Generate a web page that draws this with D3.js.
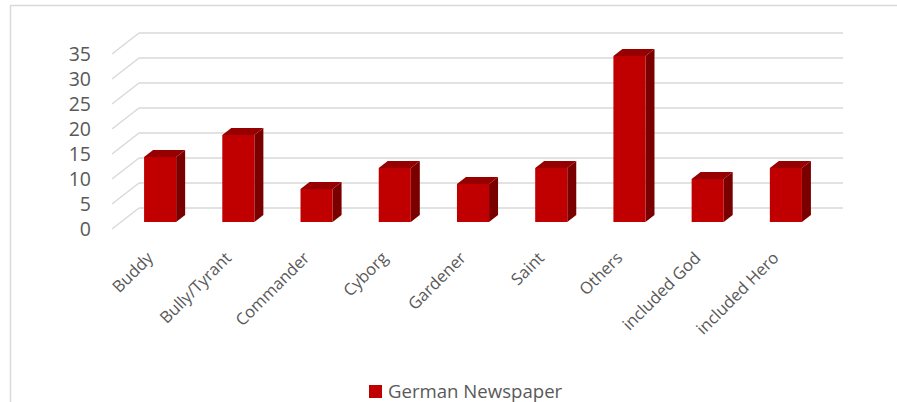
<!DOCTYPE html>
<html>
<head>
<meta charset="utf-8">
<script src="https://cdn.jsdelivr.net/npm/d3@7"></script>
<style>
  body { margin: 0; background: #fff; }
  #chart-wrapper { width: 897px; height: 402px; }
</style>
</head>
<body>
<div id="chart-wrapper"></div>
<script>
// Data
const categories = ["Buddy", "Bully/Tyrant", "Commander", "Cyborg", "Gardener", "Saint", "Others", "included God", "included Hero"]
const values = [13, 17.4, 6.6, 10.8, 7.6, 10.8, 33.2, 8.6, 10.8]
const yTicks = [0, 5, 10, 15, 20, 25, 30, 35]
const seriesName = "German Newspaper"

// Configs
const width = 897
const height = 402
const depth = {dx: 27, dy: -21}      // full floor depth offset
const barDepth = {from: 1/3, to: 2/3} // bars sit in the middle third
const colors = {
  front: "#c00000",
  side: "#7a0000",
  top: "#960000",
  grid: "#d9d9d9",
  text: "#595959"
}

const svg = d3.select("#chart-wrapper")
  .append("svg")
  .attr("width", width)
  .attr("height", height)

// Outer frame
svg.append("rect")
  .attr("x", 10.5).attr("y", 5.5)
  .attr("width", 900).attr("height", 420)
  .attr("fill", "none")
  .attr("stroke", colors.grid)
  .attr("stroke-width", 1.5)

// Scales (front plane)
const x = d3.scaleBand()
  .domain(categories)
  .range([112, 816])
  .paddingInner(0.59)
  .paddingOuter(0.295)
const xCat = d3.scaleBand().domain(categories).range([112, 816])
const y = d3.scaleLinear().domain([0, 35]).range([229, 54])

// Gridlines: diagonal on the left wall + horizontal on back wall
const grid = svg.append("g").attr("class", "grid")
grid.selectAll("line.diag")
  .data(yTicks)
  .join("line")
  .attr("class", "diag")
  .attr("x1", 112).attr("y1", d => y(d))
  .attr("x2", 112 + depth.dx).attr("y2", d => y(d) + depth.dy)
  .attr("stroke", colors.grid).attr("stroke-width", 1.5)
grid.selectAll("line.back")
  .data(yTicks)
  .join("line")
  .attr("class", "back")
  .attr("x1", 112 + depth.dx).attr("y1", d => y(d) + depth.dy)
  .attr("x2", 816 + depth.dx).attr("y2", d => y(d) + depth.dy)
  .attr("stroke", colors.grid).attr("stroke-width", 1.5)

// Y tick labels
svg.append("g")
  .selectAll("text")
  .data(yTicks)
  .join("text")
  .attr("x", 91)
  .attr("y", d => y(d))
  .attr("dy", "0.35em")
  .attr("text-anchor", "end")
  .attr("font-family", "Open Sans")
  .attr("font-size", 19.5)
  .attr("fill", colors.text)
  .text(d => d)

// Bars
const ox = depth.dx * barDepth.from, oy = depth.dy * barDepth.from
const bdx = depth.dx * (barDepth.to - barDepth.from), bdy = depth.dy * (barDepth.to - barDepth.from)
const bars = svg.append("g").attr("class", "bars")
  .selectAll("g")
  .data(categories.map((c, i) => ({c, v: values[i]})))
  .join("g")

bars.each(function(d) {
  const g = d3.select(this)
  const x0 = x(d.c) + ox, x1 = x0 + x.bandwidth()
  const yb = y(0) + oy, yt = y(d.v) + oy
  // side face
  g.append("path")
    .attr("d", `M${x1},${yt}L${x1 + bdx},${yt + bdy}L${x1 + bdx},${yb + bdy}L${x1},${yb}Z`)
    .attr("fill", colors.side)
  // top face
  g.append("path")
    .attr("d", `M${x0},${yt}L${x0 + bdx},${yt + bdy}L${x1 + bdx},${yt + bdy}L${x1},${yt}Z`)
    .attr("fill", colors.top)
  // front face
  g.append("rect")
    .attr("x", x0).attr("y", yt)
    .attr("width", x.bandwidth()).attr("height", yb - yt)
    .attr("fill", colors.front)
})

// Category labels, rotated
svg.append("g")
  .selectAll("text")
  .data(categories)
  .join("text")
  .attr("transform", d => `translate(${xCat(d) + xCat.bandwidth() / 2 + 3},${259}) rotate(-45)`)
  .attr("text-anchor", "end")
  .attr("font-family", "Open Sans")
  .attr("font-size", 16.5)
  .attr("fill", colors.text)
  .text(d => d)

// Legend
const legend = svg.append("g").attr("transform", "translate(369,385)")
legend.append("rect")
  .attr("width", 13).attr("height", 13)
  .attr("fill", colors.front)
legend.append("text")
  .attr("x", 19).attr("y", 12.5)
  .attr("font-family", "Open Sans")
  .attr("font-size", 18.6)
  .attr("fill", colors.text)
  .text(seriesName)
</script>
</body>
</html>
